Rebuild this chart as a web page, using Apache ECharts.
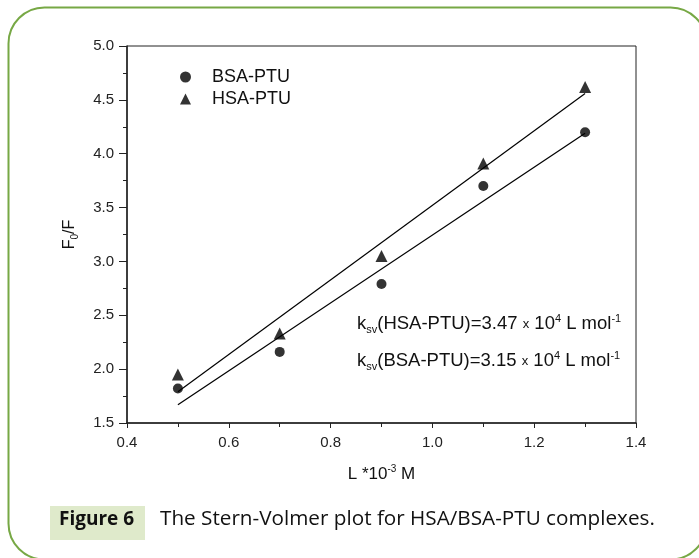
<!DOCTYPE html>
<html>
<head>
<meta charset="utf-8">
<script src="https://cdn.jsdelivr.net/npm/echarts@6/dist/echarts.min.js"></script>
<style>
  html, body { margin: 0; padding: 0; background: #fff; }
  #chart { width: 699px; height: 558px; }
</style>
</head>
<body>
<div id="chart"></div>
<script>
// concentration L (x 10^-3 M)
var conc = [0.5, 0.7, 0.9, 1.1, 1.3];
var bsaValues = [1.82, 2.16, 2.79, 3.70, 4.20];
var hsaValues = [1.95, 2.33, 3.05, 3.91, 4.62];
// fitted lines, read at the two ends
var fitX = [0.5, 1.3];
var bsaFit = [1.67, 4.19];
var hsaFit = [1.79, 4.56];

function pairs(xs, ys) {
    return xs.map(function (x, i) { return [x, ys[i]]; });
}

var dom = document.getElementById('chart');
var myChart = echarts.init(dom);
var font = 'Liberation Sans, Arial, sans-serif';

// rich styles for sub/superscripts in the annotations
var richAnno = {
    sub: { fontSize: 11, fontFamily: font, verticalAlign: 'bottom', padding: [11, 0, 0, 0], fill: '#111' },
    sup: { fontSize: 11, fontFamily: font, verticalAlign: 'top', padding: [0, 0, 11, 0], fill: '#111' },
    x: { fontSize: 13, fontFamily: font, fill: '#111' }
};

var option = {
    animation: false,
    textStyle: { fontFamily: font },
    grid: {
        left: 127, right: 63, top: 46, bottom: 135,
        show: true, borderColor: '#222', borderWidth: 1
    },
    legend: {
        orient: 'vertical',
        left: 175, top: 63,
        itemWidth: 11, itemHeight: 11, itemGap: 4,
        textStyle: { fontSize: 18, color: '#111', fontFamily: font, padding: [0, 0, 0, 16] },
        data: [
            { name: 'BSA-PTU', icon: 'circle' },
            { name: 'HSA-PTU', icon: 'triangle' }
        ]
    },
    xAxis: {
        type: 'value',
        min: 0.4, max: 1.4, interval: 0.2,
        name: 'L *10{sup|-3} M',
        nameLocation: 'middle',
        nameGap: 41,
        nameTextStyle: {
            fontSize: 17, color: '#111', fontFamily: font,
            rich: { sup: { fontSize: 10, verticalAlign: 'top', padding: [0, 0, 10, 0], color: '#111' } }
        },
        axisLine: { lineStyle: { color: '#222', width: 1.5 } },
        axisTick: { inside: false, length: 5, lineStyle: { color: '#222' } },
        minorTick: { show: true, splitNumber: 2, length: 4, lineStyle: { color: '#222' } },
        splitLine: { show: false },
        axisLabel: {
            fontSize: 15, color: '#222', margin: 12,
            formatter: function (v) { return v.toFixed(1); }
        }
    },
    yAxis: {
        type: 'value',
        min: 1.5, max: 5.0, interval: 0.5,
        name: 'F{sub|0}/F',
        nameLocation: 'middle',
        nameGap: 47,
        nameTextStyle: {
            fontSize: 16, color: '#111', fontFamily: font,
            rich: { sub: { fontSize: 10, verticalAlign: 'bottom', padding: [10, 0, 0, 0], color: '#111' } }
        },
        axisLine: { lineStyle: { color: '#222', width: 1.5 } },
        axisTick: { inside: false, length: 8, lineStyle: { color: '#222' } },
        minorTick: { show: true, splitNumber: 2, length: 4, lineStyle: { color: '#222' } },
        splitLine: { show: false },
        axisLabel: {
            fontSize: 15, color: '#222', margin: 13,
            formatter: function (v) { return v.toFixed(1); }
        }
    },
    series: [
        {
            name: 'BSA-PTU',
            type: 'scatter',
            symbol: 'circle',
            symbolSize: 10,
            itemStyle: { color: '#000' },
            data: pairs(conc, bsaValues)
        },
        {
            name: 'HSA-PTU',
            type: 'scatter',
            symbol: 'triangle',
            symbolSize: 12,
            itemStyle: { color: '#000' },
            data: pairs(conc, hsaValues)
        },
        {
            name: 'BSA fit',
            type: 'line',
            showSymbol: false,
            lineStyle: { color: '#000', width: 1.2 },
            data: pairs(fitX, bsaFit)
        },
        {
            name: 'HSA fit',
            type: 'line',
            showSymbol: false,
            lineStyle: { color: '#000', width: 1.2 },
            data: pairs(fitX, hsaFit)
        }
    ],
    graphic: [
        // outer green frame
        {
            type: 'rect', left: 6, top: 5, silent: true,
            shape: { width: 698, height: 552, r: 36 },
            style: { fill: 'none', stroke: '#77a845', lineWidth: 2 }
        },
        // annotations
        {
            type: 'text', left: 357, top: 313,
            style: {
                text: 'k{sub|sv}(HSA-PTU)=3.47 {x|x} 10{sup|4} L mol{sup|-1}',
                fontSize: 18.5, fontFamily: font, fill: '#111', rich: richAnno
            }
        },
        {
            type: 'text', left: 357, top: 350,
            style: {
                text: 'k{sub|sv}(BSA-PTU)=3.15 {x|x} 10{sup|4} L mol{sup|-1}',
                fontSize: 18.5, fontFamily: font, fill: '#111', rich: richAnno
            }
        },
        // caption
        {
            type: 'rect', left: 50, top: 506, silent: true,
            shape: { width: 95, height: 34 },
            style: { fill: '#dfeacb' }
        },
        {
            type: 'text', left: 59, top: 510,
            style: {
                text: 'Figure 6', fontSize: 19, fontWeight: 'bold',
                fontFamily: 'Open Sans, sans-serif', fill: '#111'
            }
        },
        {
            type: 'text', left: 160, top: 509,
            style: {
                text: 'The Stern-Volmer plot for HSA/BSA-PTU complexes.',
                fontSize: 20.7, fontFamily: 'Open Sans, sans-serif', fill: '#111'
            }
        }
    ]
};

myChart.setOption(option);
</script>
</body>
</html>
